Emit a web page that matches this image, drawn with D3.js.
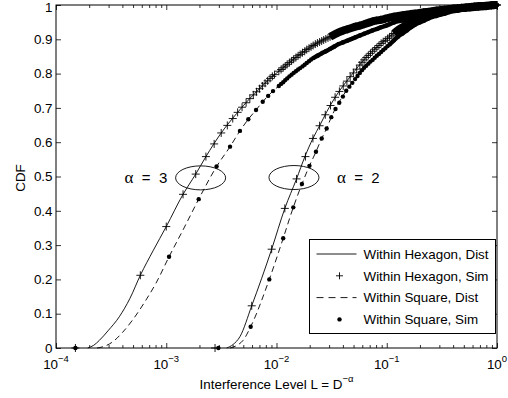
<!DOCTYPE html>
<html><head><meta charset="utf-8">
<script src="https://cdn.jsdelivr.net/npm/d3@7"></script>
<style>
body{margin:0;background:#fff}
svg{display:block}
text{font-family:"Liberation Sans",Arial,sans-serif;fill:#000}
</style>
</head><body>
<svg id="c" width="508" height="398"></svg>
<script>
// ---- data (L = interference level, F = CDF) ----
const hexDist3 = [[1.94e-4,0],[2.2e-4,0.008],[2.47e-4,0.022],[2.96e-4,0.05],[3.75e-4,0.091],[4.69e-4,0.145],[5.82e-4,0.212],[7.64e-4,0.285],[1.0e-3,0.354],[1.42e-3,0.448],[1.85e-3,0.507],[2.29e-3,0.558],[3.12e-3,0.625],[4.36e-3,0.684],[5.75e-3,0.728],[7.08e-3,0.757],[8.73e-3,0.786],[1.08e-2,0.81],[1.52e-2,0.849],[2.14e-2,0.882],[3.77e-2,0.922],[7.05e-2,0.95],[0.124,0.968],[0.35,0.988],[1,1]];
const sqDist3 = [[2.36e-4,0],[2.8e-4,0.006],[3.27e-4,0.018],[4.0e-4,0.045],[4.96e-4,0.082],[6.55e-4,0.14],[8.07e-4,0.189],[1.06e-3,0.266],[1.45e-3,0.35],[1.97e-3,0.434],[2.86e-3,0.529],[3.79e-3,0.587],[4.66e-3,0.633],[5.55e-3,0.667],[6.52e-3,0.694],[7.5e-3,0.718],[9.35e-3,0.75],[1.06e-2,0.765],[1.40e-2,0.80],[2.16e-2,0.845],[3.77e-2,0.888],[7.05e-2,0.923],[0.124,0.952],[0.35,0.981],[1,1]];
const hexDist2 = [[3.53e-3,0],[4.03e-3,0.01],[4.66e-3,0.033],[5.96e-3,0.123],[9.04e-3,0.288],[1.19e-2,0.407],[1.52e-2,0.493],[1.81e-2,0.558],[2.14e-2,0.611],[2.48e-2,0.65],[2.87e-2,0.69],[3.39e-2,0.73],[4.64e-2,0.79],[6.62e-2,0.85],[8.69e-2,0.885],[0.124,0.925],[0.173,0.955],[0.247,0.975],[0.375,0.988],[0.632,0.996],[1,1]];
const sqDist2 = [[3.79e-3,0],[4.4e-3,0.008],[5.0e-3,0.023],[5.83e-3,0.062],[8.6e-3,0.2],[1.15e-2,0.32],[1.42e-2,0.41],[1.70e-2,0.478],[1.99e-2,0.531],[2.28e-2,0.572],[2.57e-2,0.611],[2.85e-2,0.64],[3.14e-2,0.673],[4.29e-2,0.75],[6.14e-2,0.815],[8.33e-2,0.855],[0.123,0.905],[0.173,0.94],[0.247,0.963],[0.375,0.98],[0.632,0.993],[1,1]];

// simulated points: sparse part as [L, F] pairs
const hexSim3 = [[1.5e-4,0],[5.82e-4,0.212],[1.0e-3,0.354],[1.42e-3,0.448],[1.85e-3,0.507],[2.29e-3,0.558],[2.72e-3,0.595],[3.15e-3,0.627],[3.58e-3,0.649],[4.01e-3,0.669],[4.44e-3,0.687],[4.87e-3,0.702],[5.30e-3,0.715],[5.73e-3,0.727],[6.16e-3,0.738],[6.59e-3,0.747],[7.02e-3,0.756],[7.45e-3,0.764],[7.88e-3,0.772],[8.31e-3,0.779],[8.74e-3,0.786],[9.17e-3,0.792],[9.60e-3,0.797],
  [1.10e-2,0.812],[1.20e-2,0.822],[1.31e-2,0.832],[1.43e-2,0.842],[1.57e-2,0.852],[1.72e-2,0.861],[1.88e-2,0.870],[2.06e-2,0.878],[2.25e-2,0.886],[2.46e-2,0.892],[2.68e-2,0.898],[2.93e-2,0.904]];
const sqSim3 = [[1.5e-4,0],[1.06e-3,0.266],[1.97e-3,0.434],[2.86e-3,0.529],[3.79e-3,0.587],[4.66e-3,0.633],[5.55e-3,0.667],[6.52e-3,0.694],[7.5e-3,0.718],[8.4e-3,0.735],[9.3e-3,0.749],
  [1.10e-2,0.770],[1.20e-2,0.781],[1.31e-2,0.792],[1.43e-2,0.802],[1.57e-2,0.812],[1.72e-2,0.821],[1.88e-2,0.831],[2.06e-2,0.841]];
const hexSim2 = [[2.77e-3,0],[5.96e-3,0.123],[9.04e-3,0.288],[1.19e-2,0.407],[1.52e-2,0.493],[1.83e-2,0.558],[2.14e-2,0.611],[2.46e-2,0.648],[2.77e-2,0.68],[3.09e-2,0.707],[3.40e-2,0.731],[3.72e-2,0.748],[4.03e-2,0.764],[4.35e-2,0.778],[4.66e-2,0.791],[4.98e-2,0.802],
  [5.34e-2,0.813],[5.96e-2,0.833],[6.51e-2,0.847],[7.12e-2,0.859],[7.78e-2,0.871],[8.5e-2,0.882],[9.29e-2,0.893],[0.1015,0.902],[0.111,0.912]];
const sqSim2 = [[2.97e-3,0],[5.83e-3,0.062],[8.6e-3,0.2],[1.15e-2,0.32],[1.42e-2,0.41],[1.70e-2,0.478],[1.99e-2,0.531],[2.28e-2,0.572],[2.57e-2,0.611],[2.85e-2,0.64],[3.14e-2,0.673],[3.43e-2,0.697],[3.71e-2,0.715],[4.0e-2,0.733],[4.29e-2,0.75],[4.58e-2,0.762],[4.87e-2,0.773],[5.16e-2,0.784],
  [5.43e-2,0.793],[5.96e-2,0.810],[6.51e-2,0.823],[7.12e-2,0.835],[7.78e-2,0.846],[8.5e-2,0.857],[9.29e-2,0.869],[0.1015,0.880]];

// dense part of the simulated points (where markers overlap into a band)
const denseL = [1.05e-2,1.15e-2,1.25e-2,1.37e-2,1.5e-2,1.64e-2,1.8e-2,1.97e-2,2.15e-2,2.35e-2,2.57e-2,2.8e-2,3.06e-2,3.35e-2,3.66e-2,4.0e-2,4.37e-2,4.78e-2,5.22e-2,5.7e-2,6.23e-2,6.81e-2,7.44e-2,8.13e-2,8.89e-2,9.71e-2,0.106,0.116,0.127,0.139,0.152,0.166,0.181,0.198,0.216,0.236,0.258,0.282,0.308,0.336,0.367,0.401,0.438,0.478,0.522,0.57,0.623,0.681,0.744,0.813,0.889,0.971,1];
const hexSim3Dense = [0.807,0.817,0.827,0.837,0.847,0.856,0.865,0.874,0.882,0.889,0.895,0.901,0.907,0.914,0.920,0.925,0.929,0.933,0.937,0.940,0.944,0.948,0.952,0.955,0.957,0.960,0.963,0.966,0.968,0.970,0.972,0.974,0.975,0.977,0.979,0.980,0.982,0.984,0.985,0.987,0.988,0.989,0.990,0.991,0.992,0.993,0.994,0.995,0.996,0.997,0.999,1.0,1];
const sqSim3Dense = [0.764,0.775,0.786,0.797,0.807,0.816,0.826,0.836,0.845,0.852,0.859,0.865,0.872,0.879,0.886,0.891,0.896,0.901,0.906,0.911,0.916,0.921,0.926,0.930,0.935,0.939,0.944,0.949,0.953,0.955,0.958,0.960,0.963,0.965,0.968,0.970,0.972,0.975,0.977,0.980,0.982,0.983,0.985,0.986,0.988,0.990,0.991,0.993,0.994,0.996,0.998,0.999,1];
const dense2Start = 19; // alpha = 2 dense values begin at denseL[19]
const hexSim2Dense = [0.825,0.840,0.853,0.865,0.876,0.888,0.897,0.907,0.917,0.927,0.935,0.943,0.951,0.958,0.963,0.967,0.973,0.976,0.979,0.982,0.984,0.987,0.989,0.990,0.992,0.993,0.994,0.996,0.997,0.997,0.998,0.999,1.0,1];
const sqSim2Dense = [0.802,0.817,0.829,0.840,0.852,0.863,0.874,0.885,0.897,0.908,0.917,0.926,0.935,0.943,0.949,0.954,0.960,0.965,0.968,0.972,0.975,0.979,0.982,0.984,0.986,0.988,0.990,0.993,0.994,0.995,0.997,0.998,0.999,1];
// level above which the simulated markers overlap into a solid band
const bandFromL = {hex3:3.06e-2, sq3:2.15e-2, hex2:0.116, sq2:0.106};

const xTickExps = [-4,-3,-2,-1,0];
const yTicks = [0,0.1,0.2,0.3,0.4,0.5,0.6,0.7,0.8,0.9,1];
const yTickLabels = ["0","0.1","0.2","0.3","0.4","0.5","0.6","0.7","0.8","0.9","1"];
const legendLabels = ["Within Hexagon, Dist","Within Hexagon, Sim","Within Square, Dist","Within Square, Sim"];
const annotations = [{label:"3", L:2.05e-3, F:0.496}, {label:"2", L:1.44e-2, F:0.497}];

// ---- build ----
const FS = 13.4;
const PL=56, PR=497, PT=5, PB=348;
const svg = d3.select('#c');
const x = d3.scaleLog().domain([1e-4,1]).range([PL,PR]);
const y = d3.scaleLinear().domain([0,1]).range([PB,PT]);

const withDense = (sparse, dense, start) => sparse.concat(dense.map((f,i)=>[denseL[start+i], f])).sort((a,b)=>a[0]-b[0]);
const hexS3 = withDense(hexSim3, hexSim3Dense, 0);
const sqS3 = withDense(sqSim3, sqSim3Dense, 0);
const hexS2 = withDense(hexSim2, hexSim2Dense, dense2Start);
const sqS2 = withDense(sqSim2, sqSim2Dense, dense2Start);

// axes ticks (inward)
const majors = xTickExps.map(e=>Math.pow(10,e));
const minors = x.ticks().filter(v => !majors.some(m=>Math.abs(m-v)/m<1e-6));
function axisG(gen, tx, ty){ const g = svg.append('g').attr('transform',`translate(${tx},${ty})`).call(gen); g.select('.domain').remove(); g.selectAll('line').attr('stroke','#000').attr('stroke-width',0.8); return g; }
axisG(d3.axisBottom(x).tickValues(majors).tickSize(-5).tickFormat(''),0,PB);
axisG(d3.axisBottom(x).tickValues(minors).tickSize(-3).tickFormat(''),0,PB);
axisG(d3.axisTop(x).tickValues(majors).tickSize(-5).tickFormat(''),0,PT);
axisG(d3.axisTop(x).tickValues(minors).tickSize(-3).tickFormat(''),0,PT);
const yl = axisG(d3.axisLeft(y).tickValues(yTicks).tickSize(-5).tickPadding(3.5).tickFormat((d,i)=>yTickLabels[i]),PL,0);
yl.selectAll('text').attr('font-size',FS).attr('font-family','"Liberation Sans",Arial,sans-serif')
  .attr('dy',d=>d===1?'0.45em':'0.32em');
axisG(d3.axisRight(y).tickValues(yTicks).tickSize(-5).tickFormat(''),PR,0);

// x tick labels with superscripts
const xl = svg.append('g');
xTickExps.forEach(e=>{
  const t = xl.append('text').attr('x',x(Math.pow(10,e))).attr('y',369).attr('text-anchor','middle').attr('font-size',FS);
  t.append('tspan').text('10');
  t.append('tspan').attr('dy',-7).attr('font-size',9.5).text(e===0?'0':'\u2212'+Math.abs(e));
});

// box
svg.append('rect').attr('x',PL).attr('y',PT).attr('width',PR-PL).attr('height',PB-PT)
  .attr('fill','none').attr('stroke','#000').attr('stroke-width',1);

// lines
const line = d3.line().x(d=>x(d[0])).y(d=>y(d[1])).curve(d3.curveMonotoneX);
const lines = svg.append('g').attr('fill','none').attr('stroke','#000').attr('stroke-width',0.9);
[hexDist3, hexDist2].forEach(dd=>lines.append('path').attr('d',line(dd)));
[sqDist3, sqDist2].forEach(dd=>lines.append('path').attr('d',line(dd)).attr('stroke-dasharray','6,4'));

// markers
const plusPath = (px,py,s)=>`M${px-s},${py}H${px+s}M${px},${py-s}V${py+s}`;
const mk = svg.append('g');
// overlapping markers merge into solid bands
[[hexS3,bandFromL.hex3,8],[hexS2,bandFromL.hex2,8],[sqS3,bandFromL.sq3,4.4],[sqS2,bandFromL.sq2,4.4]].forEach(([dd,from,w])=>{
  mk.append('path').attr('fill','none').attr('stroke','#000').attr('stroke-width',w)
    .attr('d', line(dd.filter(d=>d[0]>=from)));
});
[hexS3, hexS2].forEach(dd=>{
  mk.append('path').attr('fill','none').attr('stroke','#000').attr('stroke-width',0.9)
    .attr('d', dd.map(d=>plusPath(x(d[0]),y(d[1]),4)).join(''));
});
[sqS3, sqS2].forEach(dd=>{
  mk.selectAll(null).data(dd).enter().append('circle')
    .attr('cx',d=>x(d[0])).attr('cy',d=>y(d[1])).attr('r',2.2).attr('fill','#000');
});

// annotations: ellipses + alpha labels
annotations.forEach((a,i)=>{
  const cx = x(a.L), cy = y(a.F);
  svg.append('ellipse').attr('cx',cx).attr('cy',cy).attr('rx',25).attr('ry',12)
    .attr('fill','none').attr('stroke','#000').attr('stroke-width',0.9);
  const t = svg.append('text').attr('y',cy+5.5).attr('font-size',15).attr('xml:space','preserve')
    .attr('x', i===0 ? cx-76 : cx+43);
  t.append('tspan').attr('font-family','"Liberation Serif","Times New Roman",serif').attr('font-size',17).text('\u03b1');
  t.append('tspan').text('  =  '+a.label);
});

// legend
const lg = svg.append('g').attr('transform','translate(309.5,239.5)');
lg.append('rect').attr('width',186).attr('height',94).attr('fill','#fff').attr('stroke','#000').attr('stroke-width',1);
legendLabels.forEach((lab,i)=>{
  const ly = 14.5 + i*21.8;
  if(i===0) lg.append('line').attr('x1',7).attr('x2',47).attr('y1',ly).attr('y2',ly).attr('stroke','#000').attr('stroke-width',0.9);
  if(i===2) lg.append('line').attr('x1',7).attr('x2',47).attr('y1',ly).attr('y2',ly).attr('stroke','#000').attr('stroke-width',0.9).attr('stroke-dasharray','7,5');
  if(i===1) lg.append('path').attr('d',plusPath(30,ly,3.5)).attr('stroke','#000').attr('stroke-width',0.9);
  if(i===3) lg.append('circle').attr('cx',30).attr('cy',ly).attr('r',2.2).attr('fill','#000');
  lg.append('text').attr('x',54).attr('y',ly+4.8).attr('font-size',FS).text(lab);
});

// axis titles
svg.append('text').attr('transform','translate(25,178) rotate(-90)').attr('text-anchor','middle').attr('font-size',FS).text('CDF');
const xt = svg.append('text').attr('x',276.5).attr('y',389).attr('text-anchor','middle').attr('font-size',FS);
xt.append('tspan').text('Interference Level L = D');
xt.append('tspan').attr('dy',-7).attr('font-size',9.5).text('\u2212\u03b1');
</script>
</body></html>
